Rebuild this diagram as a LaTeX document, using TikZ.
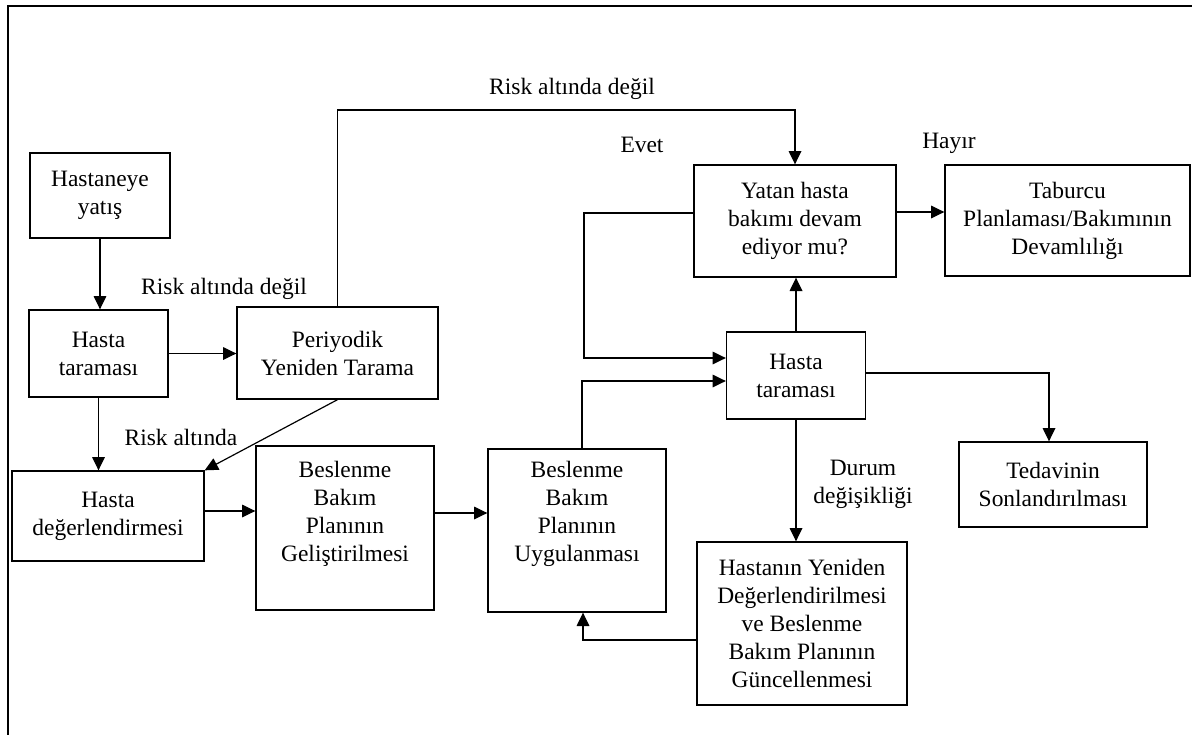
\documentclass[tikz,border=0pt]{standalone}
\usepackage{fontspec}
\setmainfont{Liberation Serif}
\usetikzlibrary{arrows.meta,calc}
\begin{document}
\begin{tikzpicture}[x=0.75pt,y=-0.75pt,
 box/.style={draw,line width=1pt,inner sep=0pt,align=center,font=\fontsize{17.6}{21}\selectfont},
 txt/.style={inner sep=0pt,align=center,font=\fontsize{17.6}{21}\selectfont},
 arr/.style={line width=0.9pt,-{Triangle[length=10pt,width=9.5pt]}}]
\useasboundingbox (0,0) rectangle (1192,735);
\draw[line width=1.8pt] (8,735) -- (8,6) -- (1192,6);
% boxes
\node[box,minimum width=105pt,minimum height=63.75pt] (yatis) at (100,195.5) {Hastaneye\\yatış};
\node[box,minimum width=104.25pt,minimum height=65.25pt] (tarama1) at (98.5,353.5) {Hasta\\taraması};
\node[box,minimum width=150.75pt,minimum height=69pt] (periyodik) at (337.5,353) {Periyodik\\Yeniden Tarama};
\node[box,minimum width=144pt,minimum height=67.5pt] (deger) at (108,516) {Hasta\\değerlendirmesi};
\node[box,minimum width=133.5pt,minimum height=123pt] (gelis) at (345,528) {};
\node[txt] (gelist) at (345,514) {Beslenme\\Bakım\\Planının\\Geliştirilmesi};
\node[box,minimum width=133.5pt,minimum height=122.25pt] (uygul) at (577,530.5) {};
\node[txt] (uygult) at (577,514) {Beslenme\\Bakım\\Planının\\Uygulanması};
\node[box,minimum width=151.5pt,minimum height=84pt] (yatan) at (795,221) {Yatan hasta\\bakımı devam\\ediyor mu?};
\node[box,minimum width=183.75pt,minimum height=83.25pt] (taburcu) at (1067.5,220.5) {Taburcu\\Planlaması/Bakımının\\Devamlılığı};
\node[box,minimum width=104.25pt,minimum height=65.25pt] (tarama2) at (796,375.5) {Hasta\\taraması};
\node[box,minimum width=141pt,minimum height=63.75pt] (tedavi) at (1053,484.5) {Tedavinin\\Sonlandırılması};
\node[box,minimum width=157.5pt,minimum height=122.25pt] (hastanin) at (802,623.5) {Hastanın Yeniden\\Değerlendirilmesi\\ve Beslenme\\Bakım Planının\\Güncellenmesi};
% labels
\node[txt] (l1) at (224,289) {Risk altında değil};
\node[txt] (l2) at (572,89) {Risk altında değil};
\node[txt] (l3) at (181,437) {Risk altında};
\node[txt] (l4) at (642,145) {Evet};
\node[txt] (l5) at (949,143) {Hayır};
\node[txt] (l6) at (863,484) {Durum\\değişikliği};
% connectors
\draw[arr] (yatis.south) -- (yatis.south |- tarama1.north);
\draw[arr] (tarama1.east) -- (periyodik.west |- tarama1.east);
\draw[arr] (tarama1.south) -- (tarama1.south |- deger.north);
\draw[arr] (periyodik.south) -- (deger.north east);
\coordinate (top) at (0,110);
\draw[arr] (periyodik.north) -- (periyodik.north |- top) -| (yatan.north);
\coordinate (ye) at ($(yatan.east)+(0,-9)$);
\draw[arr] (ye) -- (taburcu.west |- ye);
\coordinate (yw) at ($(yatan.west)+(0,-8)$);
\coordinate (loopx) at (584,0);
\coordinate (t2a) at ($(tarama2.west)+(0,-17.5)$);
\draw[arr] (yw) -- (yw -| loopx) |- (t2a);
\coordinate (ua) at ($(uygul.north)+(5,0)$);
\coordinate (t2b) at ($(tarama2.west)+(0,5.5)$);
\draw[arr] (ua) |- (t2b);
\draw[arr] (tarama2.north) -- (tarama2.north |- yatan.south);
\coordinate (te) at ($(tarama2.east)+(0,-2.5)$);
\coordinate (tn) at ($(tedavi.north)+(-4,0)$);
\draw[arr] (te) -| (tn);
\draw[arr] (tarama2.south) -- (tarama2.south |- hastanin.north);
\coordinate (hw) at ($(hastanin.west)+(0,16.5)$);
\coordinate (us) at ($(uygul.south)+(6,0)$);
\draw[arr] (hw) -| (us);
\coordinate (dw) at ($(deger.east)+(0,-5)$);
\draw[arr] (dw) -- (gelis.west |- dw);
\coordinate (ge) at ($(gelis.east)+(0,-15)$);
\draw[arr] (ge) -- (uygul.west |- ge);
\end{tikzpicture}
\end{document}
